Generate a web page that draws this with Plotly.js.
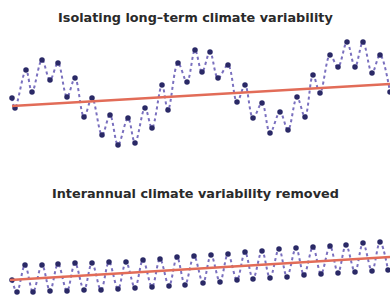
<!DOCTYPE html>
<html>
<head>
<meta charset="utf-8">
<script src="https://cdn.plot.ly/plotly-3.0.1.min.js"></script>
<style>html,body{margin:0;padding:0;background:#fff;}#chart{width:390px;height:297px;}</style>
</head>
<body>
<div id="chart"></div>
<script>
// Top panel: raw series (time index, value)
const topX = [12,15,26,32,42,50,58,67,75,84,92,102,110,118,128,135,145,152,162,168,178,187,195,202,210,218,228,237,245,253,262,270,280,288,297,305,313,320,330,338,347,355,363,372,380,390];
const topY = [52,42,80,58,90,70,87,53,72,33,52,15,35,5,32,7,42,22,65,40,87,68,100,78,98,72,85,48,65,32,47,17,38,20,53,33,75,57,95,83,108,83,108,77,95,58];
const topTrendX = [12,390];
const topTrendY = [44,66];

// Bottom panel: interannual variability removed
const botX = [12,17,25,33,42,50,58,67,75,84,92,101,109,118,126,135,143,152,160,169,177,185,194,203,211,220,228,237,245,253,262,270,279,287,296,304,313,321,330,338,346,355,363,372,380,388];
const botY = [17,5,32,5,32,6,33,6,34,7,34,7,35,8,35,9,37,10,38,11,40,12,41,14,42,15,43,17,45,18,46,19,48,20,49,22,50,23,51,24,52,25,54,26,55,27];
const botTrendX = [10,390];
const botTrendY = [17,40];

const titles = ["Isolating long\u2013term climate variability", "Interannual climate variability removed"];

const waveLine = {color:'#7a70bf', width:2, dash:'dot', shape:'spline', smoothing:1};
const waveMarker = {color:'#2a2966', size:5.5};
const trendLine = {color:'#e26c58', width:2.5};
const titleFont = {family:'DejaVu Sans, sans-serif', size:12.8, color:'#2a2a2a', weight:'bold'};

const data = [
  {x: topX, y: topY, xaxis:'x', yaxis:'y', mode:'lines+markers', line: waveLine, marker: waveMarker, hoverinfo:'skip'},
  {x: topTrendX, y: topTrendY, xaxis:'x', yaxis:'y', mode:'lines', line: trendLine, hoverinfo:'skip'},
  {x: botX, y: botY, xaxis:'x', yaxis:'y2', mode:'lines+markers', line: waveLine, marker: waveMarker, hoverinfo:'skip'},
  {x: botTrendX, y: botTrendY, xaxis:'x', yaxis:'y2', mode:'lines', line: trendLine, hoverinfo:'skip'}
];

const hidden = {showgrid:false, zeroline:false, showticklabels:false, showline:false, ticks:''};

const layout = {
  width: 390, height: 297,
  margin: {l:0, r:0, t:0, b:0},
  paper_bgcolor:'#ffffff', plot_bgcolor:'#ffffff',
  showlegend: false,
  xaxis: Object.assign({range:[0,390], domain:[0,1]}, hidden),
  yaxis: Object.assign({range:[0,120], domain:[147/297, 267/297]}, hidden),
  yaxis2: Object.assign({range:[0,72], domain:[0, 72/297]}, hidden),
  annotations: [
    {text: titles[0], xref:'paper', yref:'paper', x:0.5, y:(297-18)/297, xanchor:'center', yanchor:'middle', showarrow:false, font: titleFont},
    {text: titles[1], xref:'paper', yref:'paper', x:0.5, y:(297-193)/297, xanchor:'center', yanchor:'middle', showarrow:false, font: titleFont}
  ]
};

Plotly.newPlot('chart', data, layout, {staticPlot:true, displayModeBar:false});
</script>
</body>
</html>
